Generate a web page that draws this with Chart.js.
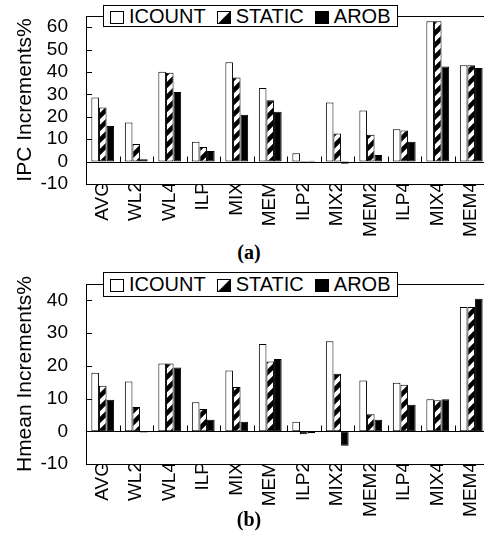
<!DOCTYPE html>
<html>
<head>
<meta charset="utf-8">
<script src="https://cdn.jsdelivr.net/npm/chart.js@4.4.0/dist/chart.umd.min.js"></script>
<style>
html, body { margin: 0; padding: 0; background: #fff; width: 484px; height: 533px; overflow: hidden; }
.wrap { position: absolute; left: 0; width: 488px; }
#wrapA { top: 0; height: 240px; }
#wrapB { top: 268px; height: 252px; }
.legend {
    position: absolute; left: 103px; width: 295px; background: #fff; border: 1px solid #000;
    font: 20px Arial, "Liberation Sans", sans-serif; color: #000; display: flex; align-items: center;
    padding-left: 6px; box-sizing: border-box; white-space: nowrap;
}
#legendA { top: 5px; height: 22px; }
#legendB { top: 272px; height: 25px; }
.legend .item { display: flex; align-items: center; margin-right: 11px; }
.legend .icon { width: 12px; height: 11px; border: 1px solid #000; margin-right: 5px; margin-top: 2px; }
.icon.icount { background: #fff; }
.icon.static { background: linear-gradient(135deg, #fff 47%, #000 53%); }
.icon.arob { background: #000; }
.caption { position: absolute; width: 60px; left: 219px; text-align: center;
    font: bold 20px "Liberation Serif", "Times New Roman", serif; color: #000; }
#capA { top: 241px; }
#capB { top: 508px; }
</style>
</head>
<body>
<div class="wrap" id="wrapA"><canvas id="chartA"></canvas></div>
<div class="wrap" id="wrapB"><canvas id="chartB"></canvas></div>
<div class="legend" id="legendA"></div>
<div class="legend" id="legendB"></div>
<div class="caption" id="capA">(a)</div>
<div class="caption" id="capB">(b)</div>
<script>
// Benchmarks and series
const categories = ['AVG', 'WL2', 'WL4', 'ILP', 'MIX', 'MEM', 'ILP2', 'MIX2', 'MEM2', 'ILP4', 'MIX4', 'MEM4'];
const seriesNames = ['ICOUNT', 'STATIC', 'AROB'];

// (a) IPC increments %
const ipcIcount = [28.6, 17.5, 40.1, 8.9, 44.3, 32.9, 3.7, 26.4, 22.8, 14.4, 62.7, 43.0];
const ipcStatic = [24.1, 7.9, 39.7, 6.5, 37.5, 27.4, -0.4, 12.6, 12.0, 13.9, 62.7, 43.0];
const ipcArob = [15.9, 1.0, 31.1, 4.7, 20.9, 22.2, 0.4, -1.0, 3.0, 8.9, 42.5, 41.8];
const ipcTicks = [-10, 0, 10, 20, 30, 40, 50, 60];

// (b) Hmean increments %
const hmeanIcount = [17.9, 15.2, 20.7, 8.9, 18.6, 26.7, 2.9, 27.5, 15.5, 14.8, 9.8, 38.0];
const hmeanStatic = [13.9, 7.4, 20.7, 6.8, 13.5, 21.3, -0.9, 17.6, 5.2, 14.2, 9.5, 38.0];
const hmeanArob = [9.6, -0.4, 19.5, 3.5, 2.9, 22.1, -0.6, -4.4, 3.5, 8.1, 9.8, 40.5];
const hmeanTicks = [-10, 0, 10, 20, 30, 40];

// Diagonal hatch for STATIC bars
function makeHatch() {
    const size = 12;
    const c = document.createElement('canvas');
    c.width = size; c.height = size;
    const g = c.getContext('2d');
    g.fillStyle = '#fff';
    g.fillRect(0, 0, size, size);
    g.strokeStyle = '#000';
    g.lineWidth = 4.5;
    g.beginPath();
    g.moveTo(-size, 2 * size); g.lineTo(2 * size, -size);
    g.moveTo(-size, size); g.lineTo(size, -size);
    g.moveTo(0, 2 * size); g.lineTo(2 * size, 0);
    g.stroke();
    return g.createPattern(c, 'repeat');
}
const hatch = makeHatch();

// Frame: top border, zero line, inward y ticks, group separators on the zero line
const framePlugin = {
    id: 'frame',
    afterDatasetsDraw(chart) {
        const { ctx, chartArea: a, scales: { x, y } } = chart;
        ctx.save();
        ctx.strokeStyle = '#000';
        ctx.lineWidth = 1;
        ctx.beginPath();
        ctx.moveTo(a.left, a.top + 0.5);
        ctx.lineTo(a.right, a.top + 0.5);
        const zy = Math.round(y.getPixelForValue(0)) + 0.5;
        ctx.moveTo(a.left, zy);
        ctx.lineTo(a.right, zy);
        y.ticks.forEach(t => {
            const py = Math.round(y.getPixelForValue(t.value)) + 0.5;
            ctx.moveTo(a.left, py);
            ctx.lineTo(a.left + 6, py);
        });
        for (let i = 1; i < categories.length; i++) {
            const px = Math.round((x.getPixelForValue(i - 1) + x.getPixelForValue(i)) / 2) + 0.5;
            ctx.moveTo(px, zy);
            ctx.lineTo(px, zy - 6);
        }
        ctx.stroke();
        ctx.restore();
    }
};

function makeChart(id, title, icount, stat, arob, ticks) {
    const ctx = document.getElementById(id);
    return new Chart(ctx, {
        type: 'bar',
        data: {
            labels: categories,
            datasets: [
                { label: seriesNames[0], data: icount, backgroundColor: '#fff', borderColor: '#000', borderWidth: 1 },
                { label: seriesNames[1], data: stat, backgroundColor: hatch, borderColor: '#000', borderWidth: 1 },
                { label: seriesNames[2], data: arob, backgroundColor: '#000', borderColor: '#000', borderWidth: 1 }
            ]
        },
        options: {
            responsive: true,
            maintainAspectRatio: false,
            animation: false,
            layout: { padding: { top: 16, right: 0, left: 0, bottom: 0 } },
            datasets: { bar: { categoryPercentage: 0.68, barPercentage: 1.0, borderSkipped: false } },
            scales: {
                x: {
                    grid: { display: false, drawTicks: false },
                    border: { display: true, color: '#000', width: 1 },
                    ticks: {
                        color: '#000',
                        font: { family: 'Arial, "Liberation Sans"', size: 19 },
                        maxRotation: 90, minRotation: 90,
                        padding: -2, autoSkip: false
                    },
                    afterFit(scale) {
                        scale.height = 56;
                        scale.paddingLeft = 0;
                        scale.paddingRight = 0;
                    }
                },
                y: {
                    min: ticks[0],
                    max: ticks[ticks.length - 1] + 5,
                    afterBuildTicks(scale) { scale.ticks = ticks.map(v => ({ value: v })); },
                    grid: { display: false, drawTicks: false },
                    border: { display: true, color: '#000', width: 1 },
                    ticks: {
                        color: '#000',
                        font: { family: 'Arial, "Liberation Sans"', size: 19 },
                        padding: 18,
                        autoSkip: false
                    },
                    title: {
                        display: true,
                        text: title,
                        color: '#000',
                        font: { family: 'Arial, "Liberation Sans"', size: 21 },
                        padding: { top: 13, bottom: 0 }
                    },
                    afterFit(scale) {
                        scale.width = 86;
                        scale.paddingTop = 0;
                        scale.paddingBottom = 0;
                    }
                }
            },
            plugins: {
                legend: { display: false },
                tooltip: { enabled: false }
            }
        },
        plugins: [framePlugin]
    });
}

// HTML legends sitting over the top border
function buildLegend(id) {
    const el = document.getElementById(id);
    const cls = ['icount', 'static', 'arob'];
    seriesNames.forEach((name, i) => {
        const item = document.createElement('span');
        item.className = 'item';
        const icon = document.createElement('span');
        icon.className = 'icon ' + cls[i];
        item.appendChild(icon);
        item.appendChild(document.createTextNode(name));
        el.appendChild(item);
    });
}

buildLegend('legendA');
buildLegend('legendB');
makeChart('chartA', 'IPC Increments%', ipcIcount, ipcStatic, ipcArob, ipcTicks);
makeChart('chartB', 'Hmean Increments%', hmeanIcount, hmeanStatic, hmeanArob, hmeanTicks);
</script>
</body>
</html>
